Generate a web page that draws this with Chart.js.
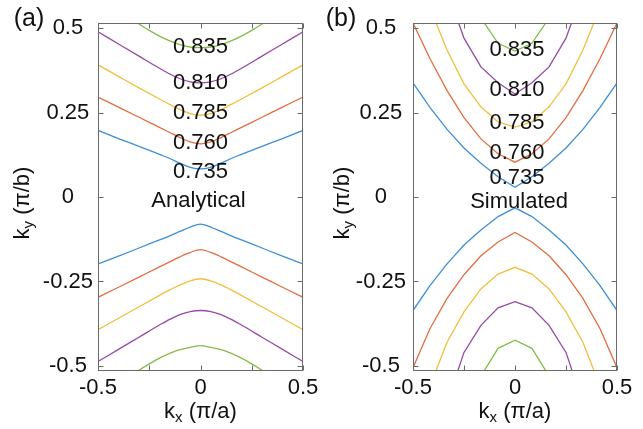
<!DOCTYPE html>
<html>
<head>
<meta charset="utf-8">
<script src="https://cdn.jsdelivr.net/npm/chart.js@4.4.1/dist/chart.umd.min.js"></script>
<style>
  html, body { margin: 0; padding: 0; background: #fff; }
  #wrap { position: relative; width: 643px; height: 429px; overflow: hidden; }
  canvas { position: absolute; top: 0; }
</style>
</head>
<body>
<div id="wrap">
  <canvas id="chartA" width="320" height="429" style="left:0px"></canvas>
  <canvas id="chartB" width="323" height="429" style="left:320px"></canvas>
</div>
<script>
// contour levels and their colours (MATLAB default order)
const levels = ['0.735', '0.760', '0.785', '0.810', '0.835'];
const lineColors = ['#3d8fd8', '#e36d43', '#f0bf3e', '#9649a8', '#86bb4a'];

const yTicks = [-0.5, -0.25, 0, 0.25, 0.5];
const xTickLabels = [-0.5, 0, 0.5];
const xTickMarks = [-0.5, -0.25, 0, 0.25, 0.5];

// (a) analytical, kx sample points
const kxAna = [-0.5, -0.4, -0.3, -0.2, -0.15, -0.1, -0.05, 0, 0.05, 0.1, 0.15, 0.2, 0.3, 0.4, 0.5];
const kxAnaGreen = [-0.35, -0.3, -0.25, -0.2, -0.15, -0.1, -0.05, 0, 0.05, 0.1, 0.15, 0.2, 0.25, 0.3, 0.35];

const anaUpper735 = [0.197, 0.173, 0.150, 0.126, 0.114, 0.100, 0.088, 0.083, 0.088, 0.100, 0.114, 0.126, 0.150, 0.173, 0.197];
const anaUpper760 = [0.296, 0.266, 0.236, 0.206, 0.191, 0.176, 0.163, 0.157, 0.163, 0.176, 0.191, 0.206, 0.236, 0.266, 0.296];
const anaUpper785 = [0.391, 0.357, 0.323, 0.290, 0.274, 0.259, 0.247, 0.242, 0.247, 0.259, 0.274, 0.290, 0.323, 0.357, 0.391];
const anaUpper810 = [0.489, 0.453, 0.417, 0.381, 0.364, 0.350, 0.341, 0.338, 0.341, 0.350, 0.364, 0.381, 0.417, 0.453, 0.489];
const anaUpper835 = [0.535, 0.512, 0.493, 0.476, 0.462, 0.451, 0.444, 0.442, 0.444, 0.451, 0.462, 0.476, 0.493, 0.512, 0.535];

const anaLower735 = [-0.198, -0.175, -0.151, -0.127, -0.115, -0.102, -0.089, -0.080, -0.089, -0.102, -0.115, -0.127, -0.151, -0.175, -0.198];
const anaLower760 = [-0.297, -0.267, -0.237, -0.207, -0.192, -0.177, -0.164, -0.156, -0.164, -0.177, -0.192, -0.207, -0.237, -0.267, -0.297];
const anaLower785 = [-0.393, -0.359, -0.325, -0.291, -0.275, -0.260, -0.248, -0.242, -0.248, -0.260, -0.275, -0.291, -0.325, -0.359, -0.393];
const anaLower810 = [-0.487, -0.451, -0.415, -0.379, -0.362, -0.348, -0.339, -0.336, -0.339, -0.348, -0.362, -0.379, -0.415, -0.451, -0.487];
const anaLower835 = [-0.535, -0.513, -0.494, -0.477, -0.463, -0.452, -0.445, -0.440, -0.445, -0.452, -0.463, -0.477, -0.494, -0.513, -0.535];

// (b) simulated, coarse k grid
const kxSim = [-0.5, -0.417, -0.333, -0.25, -0.167, -0.083, 0, 0.083, 0.167, 0.25, 0.333, 0.417, 0.5];

const simUpper735 = [0.338, 0.265, 0.200, 0.145, 0.100, 0.060, 0.029, 0.060, 0.100, 0.145, 0.200, 0.265, 0.338];
const simUpper760 = [0.515, 0.410, 0.315, 0.235, 0.172, 0.128, 0.103, 0.128, 0.172, 0.235, 0.315, 0.410, 0.515];
const simUpper785 = [null, 0.560, 0.435, 0.335, 0.267, 0.222, 0.207, 0.222, 0.267, 0.335, 0.435, 0.560, null];
const simUpper810 = [null, null, 0.610, 0.470, 0.385, 0.338, 0.305, 0.338, 0.385, 0.470, 0.610, null, null];
const simUpper835 = [null, null, null, null, 0.530, 0.455, 0.432, 0.455, 0.530, null, null, null, null];

const simLower735 = [-0.336, -0.262, -0.198, -0.142, -0.098, -0.058, -0.032, -0.058, -0.098, -0.142, -0.198, -0.262, -0.336];
const simLower760 = [-0.505, -0.390, -0.300, -0.230, -0.174, -0.133, -0.105, -0.133, -0.174, -0.230, -0.300, -0.390, -0.505];
const simLower785 = [null, -0.560, -0.430, -0.340, -0.272, -0.228, -0.208, -0.228, -0.272, -0.340, -0.430, -0.560, null];
const simLower810 = [null, null, -0.610, -0.460, -0.380, -0.328, -0.310, -0.328, -0.380, -0.460, -0.610, null, null];
const simLower835 = [null, null, null, null, -0.530, -0.448, -0.424, -0.448, -0.530, null, null, null, null];

// where the level labels sit (ky at the centre column)
const labelKyAna = [0.074, 0.159, 0.249, 0.338, 0.443];
const labelKySim = [0.055, 0.130, 0.220, 0.318, 0.434];

const FONT = '"Liberation Sans", Arial, sans-serif';
const TEXT = '#111111';
const FS = 22;

function pts(xs, ys) {
    const out = [];
    xs.forEach((x, i) => { if (ys[i] !== null) out.push({ x: x, y: ys[i] }); });
    return out;
}

function makeSets(upper, lower, xs, greenXs, smooth) {
    const sets = [];
    upper.forEach((ys, i) => {
        const gx = (i === 4 && greenXs) ? greenXs : xs;
        [ys, lower[i]].forEach(arr => {
            sets.push({
                data: pts(gx, arr),
                showLine: true,
                borderColor: lineColors[i],
                borderWidth: 1.3,
                pointRadius: 0,
                cubicInterpolationMode: smooth ? 'monotone' : 'default',
                tension: 0
            });
        });
    });
    return sets;
}

// draw k with a subscript followed by the unit
function subTitle(ctx, sub, rest, cx, cy) {
    const big = FS + 'px ' + FONT, small = '15px ' + FONT;
    ctx.font = big;
    const wk = ctx.measureText('k').width;
    const wr = ctx.measureText(rest).width;
    ctx.font = small;
    const ws = ctx.measureText(sub).width;
    let x = cx - (wk + ws + wr) / 2;
    ctx.textAlign = 'left';
    ctx.textBaseline = 'alphabetic';
    ctx.font = big;
    ctx.fillText('k', x, cy + 7);
    x += wk;
    ctx.font = small;
    ctx.fillText(sub, x, cy + 11);
    x += ws;
    ctx.font = big;
    ctx.fillText(rest, x, cy + 7);
}

const decor = {
    id: 'decor',
    afterDatasetsDraw(chart, args, o) {
        const { ctx, chartArea: a, scales: { x, y } } = chart;
        ctx.save();
        ctx.strokeStyle = '#6a6a6a';
        ctx.lineWidth = 1;
        const L = Math.round(a.left) + 0.5, R = Math.round(a.right) - 0.5;
        const T = Math.round(a.top) + 0.5, B = Math.round(a.bottom) - 0.5;
        ctx.strokeRect(L, T, R - L, B - T);
        ctx.beginPath();
        yTicks.forEach(v => {
            const p = Math.round(y.getPixelForValue(v)) + 0.5;
            ctx.moveTo(L, p); ctx.lineTo(L + 5, p);
            ctx.moveTo(R, p); ctx.lineTo(R - 5, p);
        });
        xTickMarks.forEach(v => {
            const p = Math.round(x.getPixelForValue(v)) + 0.5;
            ctx.moveTo(p, B); ctx.lineTo(p, B - 5);
            ctx.moveTo(p, T); ctx.lineTo(p, T + 5);
        });
        ctx.stroke();

        ctx.fillStyle = TEXT;
        ctx.textAlign = 'center';
        ctx.textBaseline = 'middle';
        ctx.font = FS + 'px ' + FONT;
        levels.forEach((lv, i) => {
            ctx.fillText(lv, x.getPixelForValue(o.labelX), y.getPixelForValue(o.labelKy[i]));
        });
        ctx.fillText(o.name, x.getPixelForValue(o.nameX), y.getPixelForValue(o.nameKy));

        ctx.font = '25px ' + FONT;
        ctx.fillText(o.panel, o.panelX, 19);

        subTitle(ctx, 'x', ' (\u03c0/a)', (a.left + a.right) / 2, 411);
        ctx.save();
        ctx.translate(22, 203);
        ctx.rotate(-Math.PI / 2);
        subTitle(ctx, 'y', ' (\u03c0/b)', 0, 0);
        ctx.restore();
        ctx.restore();
    }
};

function build(id, datasets, axisW, padRight, tickPad, o) {
    return new Chart(document.getElementById(id), {
        type: 'scatter',
        data: { datasets: datasets },
        options: {
            responsive: false,
            animation: false,
            devicePixelRatio: 1,
            layout: { padding: { top: 23, right: padRight, left: 0, bottom: 0 } },
            plugins: { legend: { display: false }, tooltip: { enabled: false }, decor: o },
            scales: {
                x: {
                    type: 'linear', min: -0.5, max: 0.5,
                    afterFit: s => { s.height = 58; },
                    afterBuildTicks: s => { s.ticks = xTickLabels.map(v => ({ value: v })); },
                    grid: { display: false }, border: { display: false },
                    ticks: { padding: -4, color: TEXT, font: { size: FS, family: FONT }, maxRotation: 0,
                             callback: v => String(v) }
                },
                y: {
                    type: 'linear', min: -0.515, max: 0.515,
                    afterFit: s => { s.width = axisW; },
                    afterBuildTicks: s => { s.ticks = yTicks.map(v => ({ value: v })); },
                    grid: { display: false }, border: { display: false },
                    ticks: { padding: tickPad, crossAlign: 'center', color: TEXT, font: { size: FS, family: FONT },
                             callback: v => String(v) }
                }
            }
        },
        plugins: [decor]
    });
}

build('chartA',
    makeSets([anaUpper735, anaUpper760, anaUpper785, anaUpper810, anaUpper835],
             [anaLower735, anaLower760, anaLower785, anaLower810, anaLower835], kxAna, kxAnaGreen, true),
    98, 17, -3,
    { labelX: 0, labelKy: labelKyAna, name: 'Analytical', nameX: -0.01, nameKy: -0.012, panel: '(a)', panelX: 29 });

build('chartB',
    makeSets([simUpper735, simUpper760, simUpper785, simUpper810, simUpper835],
             [simLower735, simLower760, simLower785, simLower810, simLower835], kxSim, null, false),
    93, 26, -1,
    { labelX: 0.01, labelKy: labelKySim, name: 'Simulated', nameX: 0.02, nameKy: -0.016, panel: '(b)', panelX: 21 });
</script>
</body>
</html>
